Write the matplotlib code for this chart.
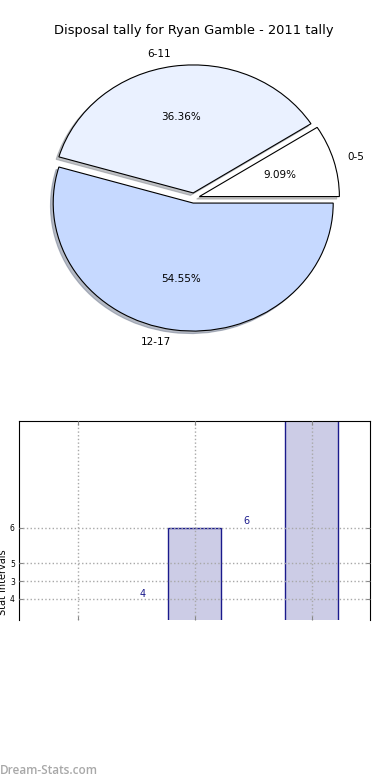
import matplotlib
matplotlib.use("Agg")
import matplotlib.pyplot as plt

# ── Data ─────────────────────────────────────────────────────────────────────
pie_labels = ["0-5", "6-11", "12-17"]
pie_values = [1, 4, 6]
pie_colors = ["#FFFFFF", "#EAF1FF", "#C6D9FF"]
pie_explode = [0.04, 0.04, 0.04]

bar_pos = [0, 1, 2]
bar_values = [0, 6, 11]
ytick_pos = [6, 5, 4.5, 4]
ytick_labels = ["6", "5", "3", "4"]
ann_x = [0.56, 1.44]
ann_y = [4.15, 6.2]
ann_text = ["4", "6"]

W, H = 390, 780
fig = plt.figure(figsize=(W / 100, H / 100), dpi=100)

# ── Pie ──────────────────────────────────────────────────────────────────────
ax1 = fig.add_axes([19 / W, 1 - 358 / H, 350 / W, 320 / H])
wedges, texts, autotexts = ax1.pie(
    pie_values, labels=pie_labels, colors=pie_colors, explode=pie_explode,
    autopct="%1.2f%%",
    shadow={"ox": -0.014, "oy": -0.014, "shade": 0.45},
    labeldistance=1.1, pctdistance=0.6,
    wedgeprops={"edgecolor": "black", "linewidth": 0.8},
    textprops={"fontsize": 7.5})
ax1.set_aspect("auto")
ax1.set_xlim(-1.25, 1.25)
ax1.set_ylim(-1.25, 1.25)
ax1.set_title("Disposal tally for Ryan Gamble - 2011 tally", fontsize=9.4, pad=3)

# ── Bars ─────────────────────────────────────────────────────────────────────
ax2 = fig.add_axes([19 / W, 1 - 620 / H, 351 / W, 199 / H])
ax2.bar(bar_pos, bar_values, width=0.445, color="#CCCCE6",
        edgecolor="#1A1A8C", linewidth=1)
for x, y, s in zip(ann_x, ann_y, ann_text):
    ax2.text(x, y, s, color="#1A1A8C", fontsize=7, ha="center", va="center")
ax2.set_xlim(-0.5, 2.5)
ax2.set_ylim(3.41, 9)
ax2.set_xticks(bar_pos)
ax2.set_xticklabels([])
ax2.set_yticks(ytick_pos)
ax2.set_yticklabels(ytick_labels, fontsize=5.5)
ax2.tick_params(direction="in", length=3, right=True, top=True, pad=3,
                color="#888888")
ax2.grid(True, linestyle=":", color="#A8A8A8", linewidth=1)
ax2.set_axisbelow(False)
ax2.spines["bottom"].set_visible(False)
ax2.set_ylabel("Stat Intervals", fontsize=7, labelpad=0)
ax2.yaxis.set_label_coords(-0.032, 0.19)

fig.text(0 / W, 1 - 770 / H, "Dream-Stats.com", fontsize=8.5, color="#A8A8A8",
         fontweight="semibold", family="Open Sans", va="center", ha="left")

fig.savefig("out.png", dpi=100)
